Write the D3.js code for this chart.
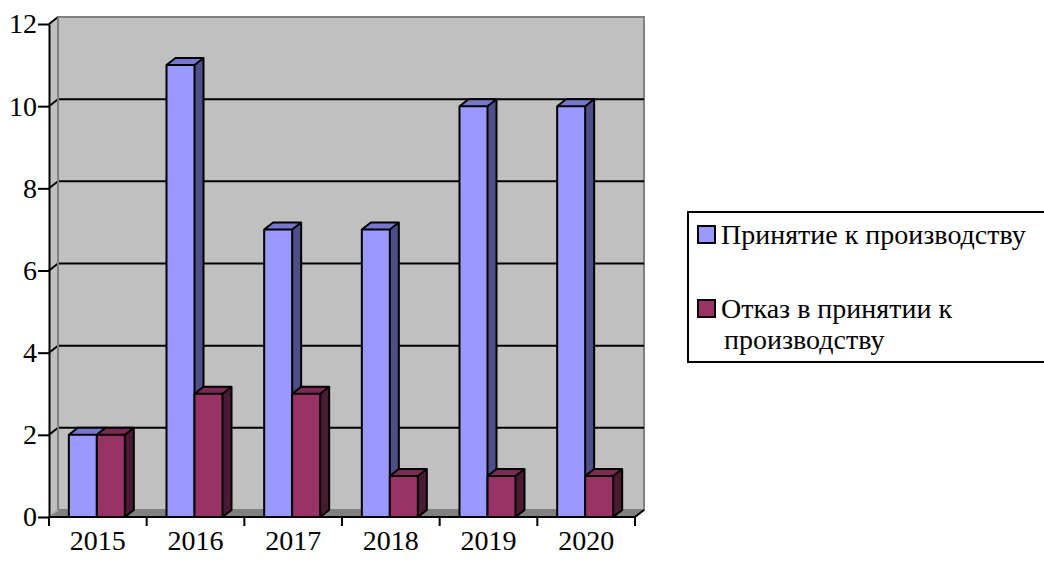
<html>
<head>
<meta charset="utf-8">
<script src="https://d3js.org/d3.v7.min.js"></script>
</head>
<body style="margin:0">
<svg width="1044" height="561" font-family="Liberation Serif"></svg>
<script>
var years = ["2015", "2016", "2017", "2018", "2019", "2020"];
var accepted = [2, 11, 7, 7, 10, 10];
var rejected = [2, 3, 3, 1, 1, 1];
var yTicks = [0, 2, 4, 6, 8, 10, 12];
var seriesNames = ["Принятие к производству", "Отказ в принятии к производству"];

var left = 49, right = 635, top0 = 24, bottom = 517;
var dx = 9, dy = -7;   // depth of the 3d box
var barW = 28;
var fontName = "Liberation Serif";
var fontSize = "28px";

var colors = [
	{front:"#9999ff", top:"#7777d0", side:"#4e4e88"},
	{front:"#993366", top:"#7c2a54", side:"#4a1a33"}
];

var svg = d3.select("svg");

var x = d3.scaleBand().domain(years).range([left, right]);
var y = d3.scaleLinear().domain([0, 12]).range([bottom, top0]);

// walls
var walls = svg.append("g");
walls.append("polygon")
	.attr("points", [[left, y(12)], [left+dx, y(12)+dy], [left+dx, y(0)+dy], [left, y(0)]].join(" "))
	.attr("fill", "#c0c0c0");
walls.append("rect")
	.attr("x", left+dx).attr("y", y(12)+dy)
	.attr("width", right-left).attr("height", y(0)-y(12))
	.attr("fill", "#c0c0c0").attr("stroke", "#808080").attr("stroke-width", 2);
walls.append("polygon")
	.attr("points", [[left, y(0)], [left+dx, y(0)+dy], [right+dx, y(0)+dy], [right, y(0)]].join(" "))
	.attr("fill", "#808080").attr("stroke", "#808080").attr("stroke-width", 1);

// gridlines on back wall plus diagonals to the front axis
var grid = svg.append("g");
grid.selectAll("line.h")
	.data(yTicks.filter(function(d) { return d > 0 && d < 12; }))
	.enter().append("line").attr("class", "h")
	.attr("x1", left+dx).attr("x2", right+dx)
	.attr("y1", function(d) { return y(d)+dy; })
	.attr("y2", function(d) { return y(d)+dy; })
	.attr("stroke", "#000").attr("stroke-width", 2);
grid.selectAll("line.d")
	.data(yTicks)
	.enter().append("line").attr("class", "d")
	.attr("x1", left).attr("x2", left+dx)
	.attr("y1", function(d) { return y(d); })
	.attr("y2", function(d) { return y(d)+dy; })
	.attr("stroke", function(d) { return d == 0 ? "#a0a0a0" : "#000"; })
	.attr("stroke-width", 2);
grid.append("line")
	.attr("x1", left+dx).attr("x2", left+dx)
	.attr("y1", y(12)+dy).attr("y2", y(0)+dy)
	.attr("stroke", "#808080").attr("stroke-width", 2);

// bars
function bar(g, x0, v, c) {
	var x1 = x0 + barW, yt = y(v), yb = y(0);
	g.append("polygon")
		.attr("points", [[x0, yt], [x0+dx, yt+dy], [x1+dx, yt+dy], [x1, yt]].join(" "))
		.attr("fill", c.top);
	g.append("polygon")
		.attr("points", [[x1, yt], [x1+dx, yt+dy], [x1+dx, yb+dy], [x1, yb]].join(" "))
		.attr("fill", c.side);
	g.append("rect")
		.attr("x", x0).attr("y", yt).attr("width", barW).attr("height", yb-yt)
		.attr("fill", c.front);
	g.append("path")
		.attr("d", "M" + x0 + "," + yb + "V" + yt + "L" + (x0+dx) + "," + (yt+dy) +
			"H" + (x1+dx) + "V" + (yb+dy) + "L" + x1 + "," + yb + "Z" +
			"M" + x0 + "," + yt + "H" + x1 + "V" + yb + "M" + x1 + "," + yt + "L" + (x1+dx) + "," + (yt+dy))
		.attr("fill", "none").attr("stroke", "#000").attr("stroke-width", 2)
		.attr("stroke-linejoin", "round");
}
var bars = svg.append("g");
years.forEach(function(yr, i) {
	var cx = x(yr) + x.bandwidth()/2 - 1;
	bar(bars, cx - barW, accepted[i], colors[0]);
	bar(bars, cx, rejected[i], colors[1]);
});

// y axis
svg.append("g")
	.attr("transform", "translate(" + left + ",0)")
	.call(d3.axisLeft(y).tickValues(yTicks).tickSize(11).tickSizeOuter(0).tickPadding(1))
	.attr("font-family", fontName).attr("font-size", fontSize)
	.call(function(g) {
		g.select(".domain").attr("stroke", "#000").attr("stroke-width", 2);
		g.selectAll(".tick line").attr("stroke", "#000").attr("stroke-width", 2);
		g.selectAll(".tick text").attr("fill", "#000")
			.attr("font-family", fontName).attr("font-size", fontSize);
	});

// x axis
var xg = svg.append("g").attr("transform", "translate(0," + bottom + ")");
xg.call(d3.axisBottom(x).tickSize(0).tickPadding(13))
	.attr("font-family", fontName).attr("font-size", fontSize)
	.call(function(g) {
		g.select(".domain").remove();
		g.selectAll(".tick text").attr("fill", "#000").attr("dy", "0.71em")
			.attr("font-family", fontName).attr("font-size", fontSize);
	});
xg.append("line").attr("x1", left).attr("x2", right).attr("y1", 0).attr("y2", 0)
	.attr("stroke", "#000").attr("stroke-width", 2);
xg.append("line").attr("x1", right).attr("x2", right+dx).attr("y1", 0).attr("y2", dy)
	.attr("stroke", "#000").attr("stroke-width", 2);
xg.selectAll("line.t")
	.data(years.map(function(d) { return x(d); }).concat([right]))
	.enter().append("line").attr("class", "t")
	.attr("x1", function(d) { return d; }).attr("x2", function(d) { return d; })
	.attr("y1", 0).attr("y2", 9)
	.attr("stroke", "#000").attr("stroke-width", 2);

// legend
var lg = svg.append("g");
lg.append("rect")
	.attr("x", 688).attr("y", 212).attr("width", 370).attr("height", 150)
	.attr("fill", "#fff").attr("stroke", "#000").attr("stroke-width", 2);
var legendRows = [
	{lines:[seriesNames[0]], y:244, c:colors[0]},
	{lines:["Отказ в принятии к", "производству"], y:318, c:colors[1]}
];
legendRows.forEach(function(r) {
	lg.append("rect")
		.attr("x", 698).attr("y", r.y - 18).attr("width", 17).attr("height", 17)
		.attr("fill", r.c.front).attr("stroke", "#000").attr("stroke-width", 2);
	var t = lg.append("text").attr("x", 721).attr("y", r.y)
		.attr("fill", "#000")
		.attr("font-family", fontName).attr("font-size", fontSize);
	r.lines.forEach(function(l, j) {
		t.append("tspan").attr("x", j == 0 ? 721 : 724).attr("dy", j == 0 ? 0 : 31).text(l);
	});
});
</script>
</body>
</html>
